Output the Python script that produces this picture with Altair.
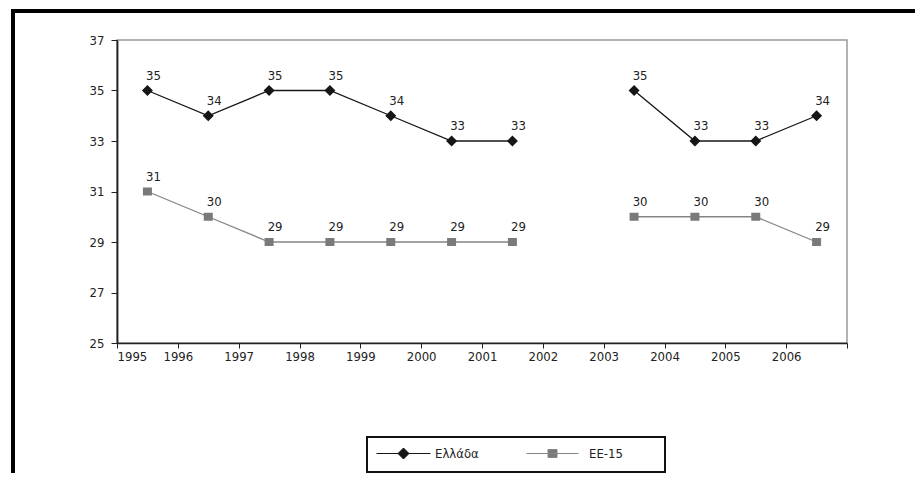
import altair as alt
import pandas as pd

# ---- data ----
series_names = ["Ελλάδα", "ΕΕ-15"]
years = [1995, 1996, 1997, 1998, 1999, 2000, 2001, 2003, 2004, 2005, 2006]
greece = [35, 34, 35, 35, 34, 33, 33, 35, 33, 33, 34]
eu15 = [31, 30, 29, 29, 29, 29, 29, 30, 30, 30, 29]
y_ticks = [25, 27, 29, 31, 33, 35, 37]
x_ticks = list(range(1995, 2008))

rows = []
for name, vals in zip(series_names, [greece, eu15]):
    for yr, v in zip(years, vals):
        rows.append({"year": yr, "value": v, "series": name})
df = pd.DataFrame(rows)

FONT = "DejaVu Sans Condensed, Liberation Sans Narrow, Arial Narrow, sans-serif"
LINE_COLORS = ["#161616", "#858585"]
MARK_COLORS = ["#161616", "#7a7a7a"]
# marker glyphs (unit = sqrt(size)/2 px) with a short line through them;
# the line part only shows in the legend (plot markers have no stroke)
GLYPHS = [
    "M-5.4,0L5.4,0M-1.1,0L0,-1.1L1.1,0L0,1.1Z",
    "M-5.2,0L5.2,0M-0.9,-0.8L0.9,-0.8L0.9,0.8L-0.9,0.8Z",
]
LEGEND_POS = [(280, 407, 25), (429, 407, 30)]  # legendX, legendY, labelOffset

base = alt.Chart(df).transform_calculate(
    xpos="datum.year + 0.5",
    seg="datum.year < 2002 ? 'a' : 'b'",
)

x_enc = alt.X(
    "xpos:Q",
    scale=alt.Scale(domain=[1995, 2007], nice=False, zero=False),
    axis=alt.Axis(
        values=x_ticks, format="d",
        labelExpr="datum.value == 2007 ? '' : datum.label",
        title=None, grid=False, tickSize=5, tickColor="#222", tickWidth=1,
        domainColor="#222", domainWidth=1.6,
        labelFont=FONT, labelFontSize=13, labelColor="#222", labelPadding=2,
    ),
)
y_enc = alt.Y(
    "value:Q",
    scale=alt.Scale(domain=[25, 37], nice=False, zero=False),
    axis=alt.Axis(
        values=y_ticks, title=None, grid=False, tickSize=6, tickColor="#222",
        tickWidth=1, domainColor="#222", domainWidth=1.8,
        labelFont=FONT, labelFontSize=13, labelColor="#222", labelPadding=7,
    ),
)

lines = base.mark_line(strokeWidth=1.3).encode(
    x=x_enc, y=y_enc,
    color=alt.Color("series:N", scale=alt.Scale(domain=series_names, range=LINE_COLORS),
                    legend=None),
    detail="seg:N",
)

marker_layers = []
for name, fillc, linec, glyph, (lx, ly, loff) in zip(
        series_names, MARK_COLORS, LINE_COLORS, GLYPHS, LEGEND_POS):
    lg = alt.Legend(
        orient="none", legendX=lx, legendY=ly, title=None,
        symbolStrokeColor=linec, symbolStrokeWidth=1,
        labelFont=FONT, labelFontSize=13, labelFontWeight="normal",
        labelColor="#222", labelOffset=loff,
    )
    marker_layers.append(
        base.transform_filter(alt.datum.series == name)
        .mark_point(filled=True, opacity=1, size=100, shape=glyph)
        .encode(
            x=x_enc, y=y_enc,
            fill=alt.Fill("series:N", scale=alt.Scale(domain=[name], range=[fillc]), legend=lg),
            strokeWidth=alt.value(0),
        )
    )

labels = base.mark_text(dx=6, dy=-15, fontSize=13, font=FONT, color="#222").encode(
    x=x_enc, y=y_enc, text="value:Q",
)

deco = alt.Chart(pd.DataFrame({"k": [0]}))
frame_top = deco.mark_rule(color="#000", strokeWidth=4).encode(
    x=alt.value(-106), x2=alt.value(800), y=alt.value(-29),
)
frame_left = deco.mark_rule(color="#000", strokeWidth=4).encode(
    x=alt.value(-104), y=alt.value(-31), y2=alt.value(440),
)
legend_box = deco.mark_rect(fillOpacity=0, stroke="#111", strokeWidth=2).encode(
    x=alt.value(250), x2=alt.value(548), y=alt.value(397), y2=alt.value(432),
)

chart = alt.layer(
    lines, *marker_layers, labels, frame_top, frame_left, legend_box
).resolve_scale(fill="independent").properties(
    width=730, height=303,
    autosize=alt.AutoSizeParams(type="none"),
    padding={"left": 109, "top": 32, "right": 68, "bottom": 130},
    background="white",
).configure_view(
    stroke="#9a9a9a", strokeWidth=1.5
)

chart.save("out.html", embed_options={"renderer": "svg", "actions": False})
